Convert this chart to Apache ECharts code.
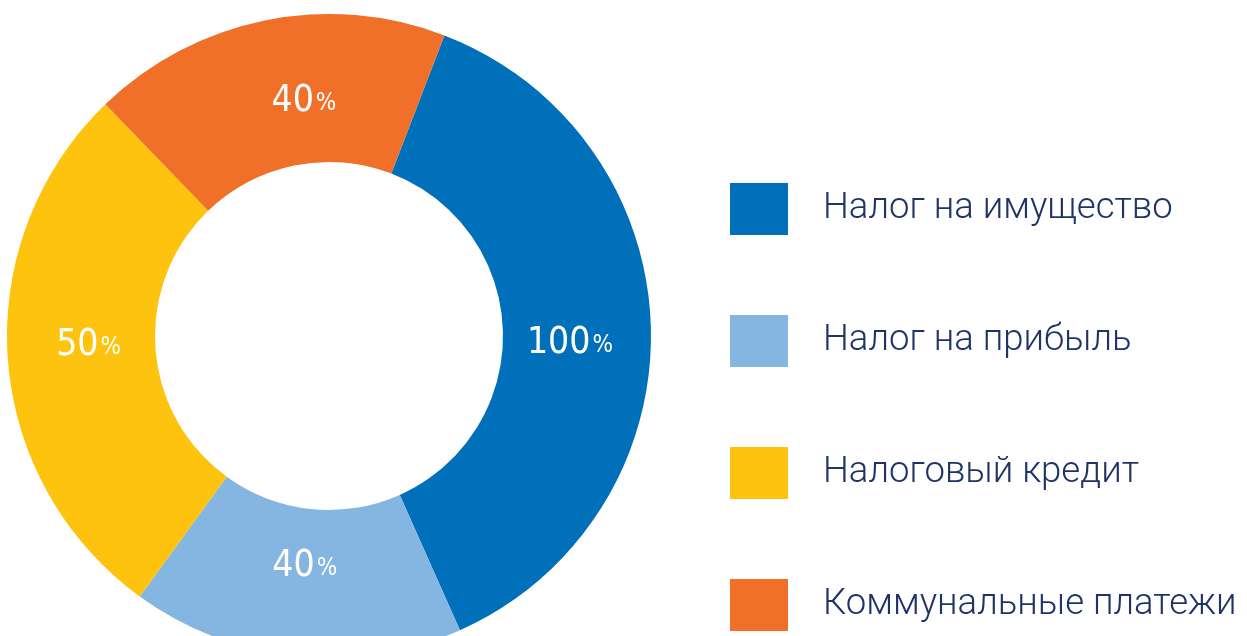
<!DOCTYPE html>
<html>
<head>
<meta charset="utf-8">
<script src="https://cdn.jsdelivr.net/npm/echarts@6/dist/echarts.min.js"></script>
<style>
  html, body { margin: 0; padding: 0; background: #fff; }
  #chart { width: 1247px; height: 636px; }
</style>
</head>
<body>
<div id="chart"></div>
<script>
// categories and slice shares as drawn in the picture
var categories = ['Налог на имущество', 'Налог на прибыль', 'Налоговый кредит', 'Коммунальные платежи'];
var shares = [135, 60, 100, 65];
var labels = ['100', '40', '50', '40'];
var colors = ['#0070ba', '#85b6e2', '#fec30f', '#f07029'];
// nudges so the labels sit where the original had them
var labelShift = [[-10, 14], [2, -19], [10, -8], [25, 11]];

var chart = echarts.init(document.getElementById('chart'));

var data = categories.map(function (name, i) {
  return {
    name: name,
    value: shares[i],
    label: {
      formatter: '{n|' + labels[i] + '}{p|%}',
      offset: labelShift[i]
    }
  };
});

var option = {
  color: colors,
  animation: false,
  legend: {
    orient: 'vertical',
    left: 730,
    top: 183,
    height: 453,
    padding: 0,
    icon: 'rect',
    itemWidth: 58,
    itemHeight: 52,
    itemGap: 80,
    selectedMode: false,
    data: categories,
    textStyle: {
      color: '#1e3366',
      fontFamily: 'Roboto',
      fontWeight: 300,
      fontSize: 36.5,
      padding: [0, 0, 0, 30]
    }
  },
  series: [{
    type: 'pie',
    center: [329, 336],
    radius: [174, 322],
    startAngle: 69,
    clockwise: true,
    avoidLabelOverlap: false,
    emphasis: { disabled: true },
    label: {
      show: true,
      position: 'inside',
      color: '#fff',
      rich: {
        n: { fontFamily: 'DejaVu Sans Condensed', fontSize: 37, color: '#fff' },
        p: { fontFamily: 'DejaVu Sans Condensed', fontSize: 24, color: '#fff', padding: [5, 0, 0, 2] }
      }
    },
    labelLine: { show: false },
    itemStyle: { borderWidth: 0 },
    data: data
  }]
};

chart.setOption(option);
</script>
</body>
</html>
